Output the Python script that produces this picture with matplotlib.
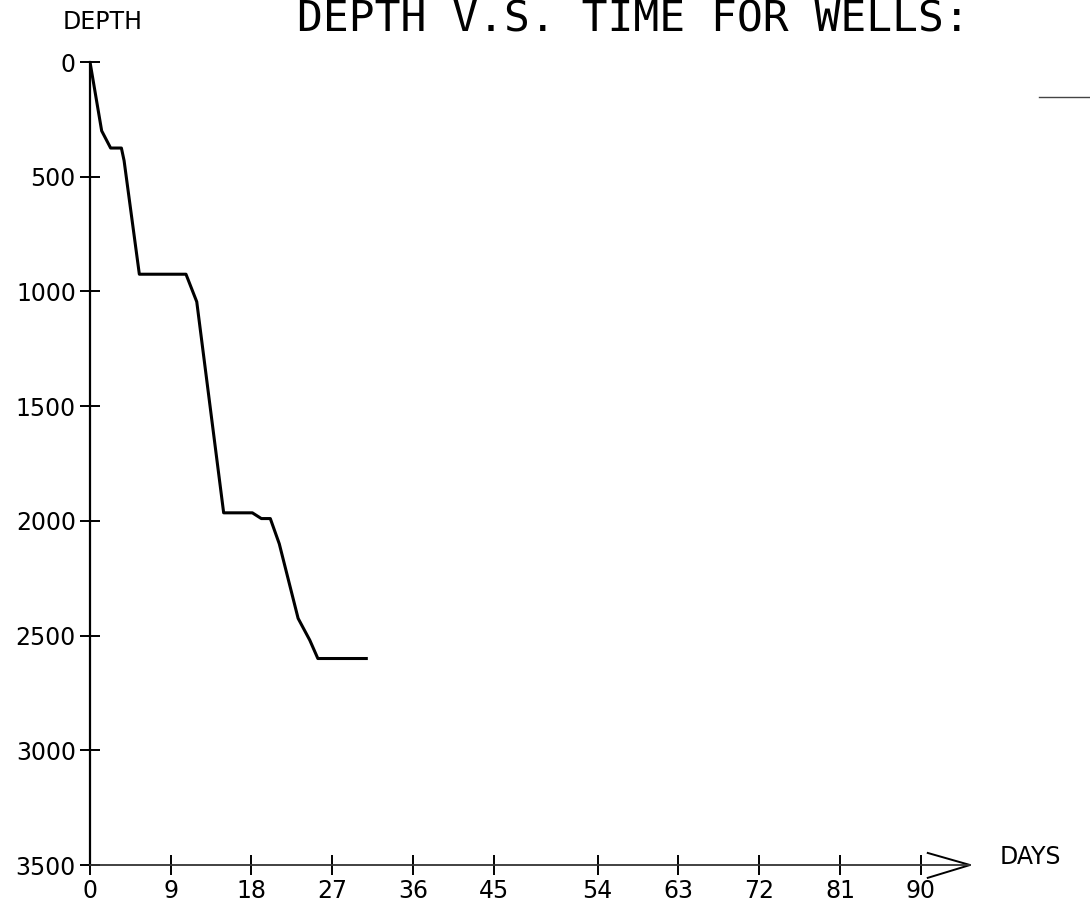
import matplotlib
matplotlib.use('Agg')
import matplotlib.pyplot as plt
from matplotlib.lines import Line2D
import numpy as np

# Данные скважины: сутки и глубина
days = [0, 1.3, 2.3, 3.5, 3.8, 5.5, 10.7, 11.9, 14.9, 18.1, 19.1, 20.1, 21.1, 23.2, 24.5, 25.4, 30.8]
depth = [0, 300, 375, 375, 430, 925, 925, 1045, 1965, 1965, 1990, 1990, 2100, 2425, 2520, 2600, 2600]

x_ticks = list(range(0, 91, 9))
y_ticks = list(range(0, 3501, 500))

title = "DEPTH V.S. TIME FOR WELLS:"

W, H = 1090, 908


# Шкала X на оригинале растянута между 45 и 54 (артефакт скана)
def fwd(x):
    x = np.asarray(x, dtype=float)
    return x + 2.6 * np.clip((x - 45) / 9, 0, 1)


def inv(y):
    y = np.asarray(y, dtype=float)
    mid = 45 + (y - 45) * 9 / 11.6
    return np.where(y <= 45, y, np.where(y >= 56.6, y - 2.6, mid))


fig = plt.figure(figsize=(W / 100, H / 100), dpi=100)
ax = fig.add_axes([90 / W, (H - 865) / H, 880 / W, 803 / H])

ax.plot(days, depth, color='black', lw=2.2, solid_joinstyle='round')

ax.set_xscale('function', functions=(fwd, inv))
ax.set_xlim(0, 95.5)
ax.set_ylim(3500, 0)
ax.set_xticks(x_ticks)
ax.set_yticks(y_ticks)
ax.set_xticklabels([str(t) for t in x_ticks])
ax.set_yticklabels([str(t) for t in y_ticks])

for s in ['top', 'right']:
    ax.spines[s].set_visible(False)
ax.spines['left'].set_linewidth(1.6)
ax.spines['bottom'].set_linewidth(1.3)
ax.spines['bottom'].set_color('#333333')

ax.tick_params(direction='inout', length=14.4, width=1.4, labelsize=17, pad=3)

# Стрелка на конце оси X
ax.plot([0.952, 1.0, 0.952], [0.015, 0, -0.016], transform=ax.transAxes,
        color='black', lw=1.4, clip_on=False)

fig.text(103 / W, (H - 22) / H, "DEPTH", ha='center', va='center', fontsize=17)
fig.text(1000 / W, (H - 857) / H, "DAYS", ha='left', va='center', fontsize=17)
fig.text(297 / W, (H - 32) / H, title, ha='left', va='baseline',
         fontsize=31, family='DejaVu Sans Mono', fontweight='light')

# Короткая линия легенды справа вверху
fig.add_artist(Line2D([1039 / W, 1.0], [1 - 97 / H] * 2, color='#444444', lw=1))

fig.savefig('out.png', dpi=100)
